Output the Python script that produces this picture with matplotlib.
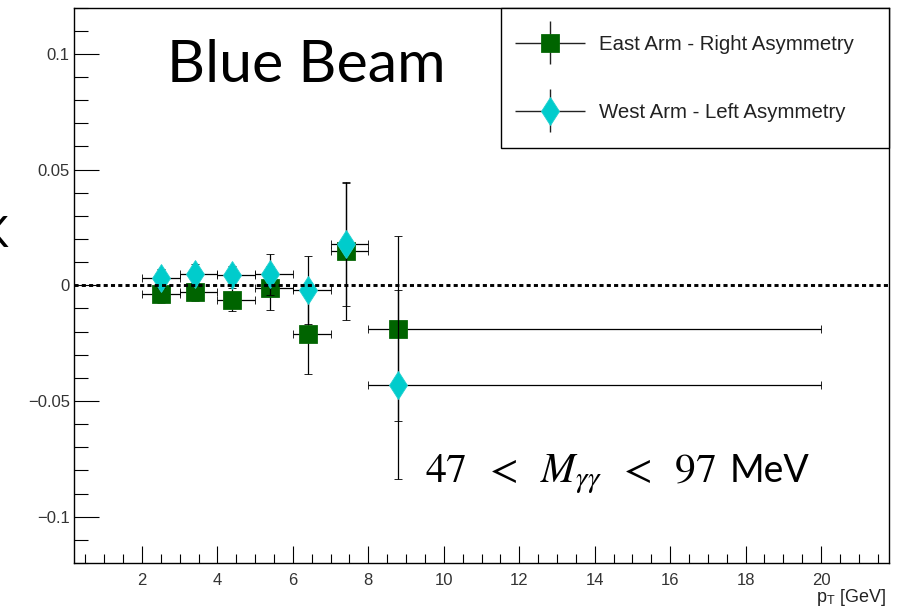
import matplotlib
matplotlib.use('Agg')
import matplotlib.pyplot as plt
import numpy as np
from matplotlib.container import ErrorbarContainer
from matplotlib.legend_handler import HandlerErrorbar
from matplotlib.ticker import MultipleLocator
from matplotlib.transforms import Affine2D

# ---- data ----
pt_center = [2.5, 3.4, 4.4, 5.4, 6.4, 7.4, 8.8]
pt_low = [2, 3, 4, 5, 6, 7, 8]
pt_high = [3, 4, 5, 6, 7, 8, 20]
east_asym = [-0.0036, -0.0029, -0.0062, -0.0010, -0.0212, 0.0148, -0.0187]
east_err = [0.004, 0.004, 0.005, 0.0095, 0.017, 0.0298, 0.040]
west_asym = [0.0030, 0.0050, 0.0043, 0.0047, -0.0020, 0.0177, -0.0429]
west_err = [0.004, 0.004, 0.004, 0.0087, 0.0147, 0.0265, 0.041]
labels = ["East Arm - Right Asymmetry", "West Arm - Left Asymmetry"]
x_ticks = [2, 4, 6, 8, 10, 12, 14, 16, 18, 20]
y_ticks = [-0.1, -0.05, 0, 0.05, 0.1]
y_ticklabels = ["\u22120.1", "\u22120.05", "0", "0.05", "0.1"]

plt.rcParams['font.family'] = ['Liberation Sans', 'DejaVu Sans']
plt.rcParams['mathtext.fontset'] = 'stix'


class ShiftedErrorbarHandler(HandlerErrorbar):
    """Errorbar legend handle shifted vertically (display pixels)."""
    def __init__(self, dy=0.0, **kw):
        super().__init__(**kw)
        self._dy = dy

    def create_artists(self, legend, orig_handle, xdescent, ydescent,
                       width, height, fontsize, trans):
        trans = trans + Affine2D().translate(0, self._dy)
        return super().create_artists(legend, orig_handle, xdescent, ydescent,
                                      width, height, fontsize, trans)


fig = plt.figure(figsize=(8.97, 6.14), dpi=100)
ax = fig.add_axes([74/897, 1-563/614, (889-74)/897, (563-7.5)/614])

xc = np.array(pt_center)
xerr = [xc - np.array(pt_low), np.array(pt_high) - xc]

ekw = dict(ecolor='black', elinewidth=0.9, capsize=2.6, capthick=0.9, linestyle='none')
east_style = dict(marker='s', ms=12.5, mfc='#006400', mec='#0a6a0a', mew=0.6)
west_style = dict(marker='d', ms=14.5, mfc='#00cccc', mec='#20d0d0', mew=0.6)
ax.errorbar(xc, east_asym, yerr=east_err, xerr=xerr, zorder=3, **east_style, **ekw)
ax.errorbar(xc, west_asym, yerr=west_err, xerr=xerr, zorder=4, **west_style, **ekw)

# legend proxies (no caps, like the reference legend)
pkw = dict(ecolor='#222222', elinewidth=1.0, capsize=0, linestyle='none')
p1 = ax.errorbar([np.nan], [np.nan], yerr=[1], xerr=[1], **east_style, **pkw)
p2 = ax.errorbar([np.nan], [np.nan], yerr=[1], xerr=[1], **west_style, **pkw)

ax.axhline(0, color='black', lw=2.1, ls=(0, (1.4, 1.1)), zorder=5)

ax.set_xlim(0.2, 21.8)
ax.set_ylim(-0.12, 0.12)
ax.set_xticks(x_ticks)
ax.set_xticklabels([str(t) for t in x_ticks])
ax.xaxis.set_minor_locator(MultipleLocator(0.5))
ax.set_yticks(y_ticks)
ax.set_yticklabels(y_ticklabels)
ax.yaxis.set_minor_locator(MultipleLocator(0.01))
ax.tick_params(axis='both', which='both', direction='in', top=False, right=False,
               width=0.8, colors='black', labelcolor='#333333', labelsize=12)
ax.tick_params(axis='y', which='major', length=18, pad=3)
ax.tick_params(axis='y', which='minor', length=10)
ax.tick_params(axis='x', which='major', length=12, pad=7)
ax.tick_params(axis='x', which='minor', length=6.5)
for s in ax.spines.values():
    s.set_linewidth(1.0)

ax_h = 563 - 7.5
leg_x0 = (501 - 74) / 815
leg_y0 = (563 - 148) / ax_h
leg = ax.legend([p1, p2], labels, loc='upper left',
                bbox_to_anchor=(leg_x0, leg_y0, 1.0 - leg_x0, 1.0 - leg_y0),
                mode='expand', borderaxespad=0, fontsize=14.7, frameon=True,
                fancybox=False, edgecolor='black', framealpha=1,
                handlelength=3.43, handleheight=2.9, handletextpad=0.69,
                labelspacing=1.2, borderpad=0.7,
                handler_map={ErrorbarContainer: ShiftedErrorbarHandler(
                    dy=-7, xerr_size=1.72, yerr_size=1.05)})
leg.get_frame().set_linewidth(1.0)
for t in leg.get_texts():
    t.set_color('#222222')

fig.text(167/897, 1-82/614, "Blue Beam", fontsize=42.5, family=['Lato', 'DejaVu Sans'],
         ha='left', va='baseline')
fig.text(425/897, 1-482/614, r"$47\;\;<\;\;M_{\gamma\gamma}\;\;<\;\;97$", fontsize=30,
         ha='left', va='baseline')
fig.text(730/897, 1-482/614, "MeV", fontsize=27,
         family=['Lato', 'DejaVu Sans'], ha='left', va='baseline')
fig.text(887/897, 1-597/614, r"p$_{\mathregular{T}}$ [GeV]", fontsize=13,
         ha='right', va='center', color='#222222')
fig.text(-20/897, 1-247/614, "K", fontsize=30, family=['Lato', 'DejaVu Sans'],
         ha='left', va='baseline')

fig.savefig('out.png', dpi=100)
